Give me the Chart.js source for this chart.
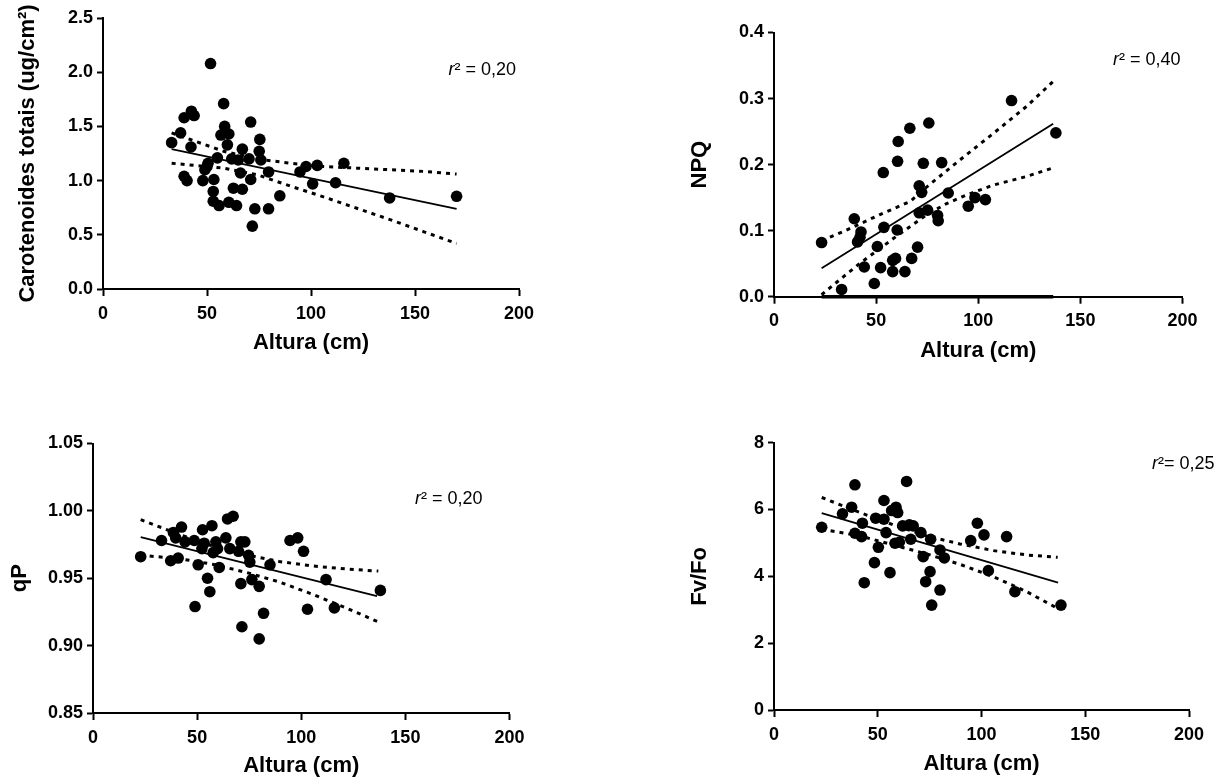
<!DOCTYPE html>
<html lang="pt">
<head>
<meta charset="utf-8">
<title>Altura (cm) – regressões</title>
<script src="https://cdn.jsdelivr.net/npm/chart.js@4.4.1/dist/chart.umd.min.js"></script>
<style>
html,body{margin:0;padding:0;background:#fff;}
body{position:relative;width:1228px;height:777px;overflow:hidden;font-family:"Liberation Sans",Arial,Helvetica,sans-serif;}
.box{position:absolute;}
.box canvas{display:block;}
.r2{position:absolute;font-size:18px;line-height:18px;color:#000;white-space:nowrap;}
</style>
</head>
<body>
<div class="box" style="left:17px;top:0;width:542px;height:354px"><canvas id="c1"></canvas></div>
<div class="box" style="left:689px;top:0;width:524px;height:362px"><canvas id="c2"></canvas></div>
<div class="box" style="left:9px;top:400px;width:541px;height:377px"><canvas id="c3"></canvas></div>
<div class="box" style="left:689px;top:400px;width:530px;height:375px"><canvas id="c4"></canvas></div>
<div class="r2" style="right:712px;top:60px"><i>r</i>² = 0,20</div>
<div class="r2" style="left:1113px;top:50px"><i>r</i>² = 0,40</div>
<div class="r2" style="left:415px;top:489px"><i>r</i>² = 0,20</div>
<div class="r2" style="left:1152px;top:454px"><i>r</i>²= 0,25</div>
<script>
// ---------- shared x axis ----------
const xTitle = 'Altura (cm)';
const heightTicks = [0, 50, 100, 150, 200];
const heightTickLabels = ['0', '50', '100', '150', '200'];

// ---------- Carotenoides totais ----------
const carTitle = 'Carotenoides totais (ug/cm²)';
const carTicks = [0, 0.5, 1.0, 1.5, 2.0, 2.5];
const carTickLabels = ['0.0', '0.5', '1.0', '1.5', '2.0', '2.5'];
const carX = [33, 37.3, 39, 42.5, 43.8, 42.3, 39, 40.4, 48, 49, 50.5, 50, 51.7, 53.3, 53, 53, 55.8, 55, 58, 58.5, 56.7, 60.5, 59.8, 60.5, 64.2, 61.9, 62.7, 67, 66.1, 67, 65, 70.2, 71, 71, 73, 71.8, 75.4, 75.1, 75.9, 79.6, 79.6, 85, 94.7, 97.6, 100.8, 103, 111.8, 115.8, 137.8, 170];
const carY = [1.35, 1.44, 1.58, 1.64, 1.60, 1.31, 1.04, 1.00, 1.00, 1.10, 1.16, 1.13, 2.08, 1.01, 0.90, 0.81, 0.77, 1.21, 1.71, 1.50, 1.42, 1.43, 1.33, 0.80, 0.77, 1.20, 0.93, 0.92, 1.07, 1.29, 1.19, 1.20, 1.54, 1.01, 0.74, 0.58, 1.38, 1.27, 1.19, 0.74, 1.08, 0.86, 1.08, 1.13, 0.97, 1.14, 0.98, 1.16, 0.84, 0.855];
const carFitX = [33, 170];
const carFitY = [1.29, 0.74];
const carBandX = [33, 58, 74, 90, 106, 122, 138, 154, 170];
const carUpperY = [1.44, 1.27, 1.20, 1.16, 1.13, 1.115, 1.10, 1.085, 1.06];
const carLowerY = [1.16, 1.115, 1.055, 0.95, 0.85, 0.745, 0.64, 0.53, 0.42];

// ---------- NPQ ----------
const npqTitle = 'NPQ';
const npqTicks = [0, 0.1, 0.2, 0.3, 0.4];
const npqTickLabels = ['0.0', '0.1', '0.2', '0.3', '0.4'];
const npqX = [23.3, 33.1, 39.3, 40.9, 42.6, 42.1, 44.2, 49.1, 50.6, 52.2, 53.5, 53.8, 58.1, 58.1, 59.5, 60.3, 60.5, 60.8, 64.1, 66.5, 67.4, 70.3, 71.1, 72.3, 71.1, 73.1, 75.2, 75.8, 80.1, 80.4, 82.1, 85.3, 95.1, 98.4, 103.5, 116.3, 138.0];
const npqY = [0.082, 0.011, 0.118, 0.083, 0.098, 0.090, 0.045, 0.020, 0.076, 0.044, 0.188, 0.105, 0.038, 0.055, 0.058, 0.101, 0.205, 0.235, 0.038, 0.255, 0.058, 0.075, 0.168, 0.158, 0.127, 0.202, 0.131, 0.263, 0.123, 0.115, 0.203, 0.157, 0.137, 0.150, 0.147, 0.297, 0.248];
const npqFitX = [23.3, 136.7];
const npqFitY = [0.043, 0.262];
const npqUpperX = [23.3, 33.9, 51.6, 66.6, 74.7, 91, 107.3, 123.6, 136.7];
const npqUpperY = [0.085, 0.0985, 0.124, 0.144, 0.166, 0.207, 0.247, 0.288, 0.326];
const npqLowerX = [23.3, 33.9, 42.1, 58.4, 74.7, 84.5, 94.3, 107.3, 123.6, 136.7];
const npqLowerY = [0.003, 0.030, 0.0506, 0.088, 0.124, 0.141, 0.154, 0.169, 0.182, 0.195];
const npqBaseX = [23.3, 136.7];
const npqBaseY = [0, 0];

// ---------- qP ----------
const qpTitle = 'qP';
const qpTicks = [0.85, 0.90, 0.95, 1.00, 1.05];
const qpTickLabels = ['0.85', '0.90', '0.95', '1.00', '1.05'];
const qpX = [22.9, 32.9, 37.3, 38.6, 39.7, 40.9, 42.5, 44.2, 48.6, 49.0, 50.5, 52.6, 52.3, 53.4, 55.0, 56.1, 57.1, 57.7, 59.0, 60.6, 59.8, 63.8, 64.6, 67.3, 65.7, 69.9, 71.0, 72.9, 71.0, 71.5, 74.7, 75.3, 76.3, 79.8, 79.8, 81.9, 85.0, 94.6, 98.3, 101.1, 103.0, 111.9, 115.9, 138.0];
const qpY = [0.966, 0.978, 0.963, 0.984, 0.980, 0.965, 0.988, 0.977, 0.978, 0.929, 0.960, 0.986, 0.972, 0.976, 0.950, 0.940, 0.989, 0.969, 0.977, 0.958, 0.972, 0.980, 0.994, 0.996, 0.972, 0.970, 0.977, 0.977, 0.946, 0.914, 0.967, 0.962, 0.949, 0.944, 0.905, 0.924, 0.960, 0.978, 0.980, 0.970, 0.927, 0.949, 0.928, 0.941];
const qpFitX = [22.9, 136.4];
const qpFitY = [0.9806, 0.9367];
const qpBandX = [22.9, 41.3, 57.4, 73.4, 89.4, 105.4, 121.5, 137];
const qpUpperY = [0.9935, 0.9826, 0.9739, 0.9675, 0.9624, 0.9591, 0.9569, 0.9553];
const qpLowerY = [0.967, 0.9646, 0.9604, 0.9544, 0.9473, 0.9381, 0.928, 0.9176];

// ---------- Fv/Fo ----------
const fvTitle = 'Fv/Fo';
const fvTicks = [0, 2, 4, 6, 8];
const fvTickLabels = ['0', '2', '4', '6', '8'];
const fvX = [23.0, 33.0, 37.4, 39.0, 39.0, 42.6, 42.2, 43.5, 48.4, 49.0, 50.3, 53.0, 53.0, 54.0, 55.9, 56.7, 58.3, 58.8, 59.6, 60.4, 62.0, 63.9, 65.2, 67.1, 65.9, 70.8, 71.9, 73.1, 75.2, 75.5, 76.0, 80.0, 80.0, 82.1, 94.8, 98.0, 101.2, 103.3, 112.1, 116.1, 138.3];
const fvY = [5.47, 5.87, 6.07, 6.74, 5.29, 5.59, 5.19, 3.81, 4.41, 5.74, 4.87, 6.27, 5.71, 5.31, 4.11, 5.97, 4.99, 6.07, 5.91, 5.02, 5.51, 6.84, 5.54, 5.51, 5.11, 5.31, 4.59, 3.84, 4.14, 5.11, 3.14, 4.79, 3.59, 4.55, 5.07, 5.59, 5.24, 4.17, 5.19, 3.54, 3.14];
const fvFitX = [23, 136.9];
const fvFitY = [5.89, 3.81];
const fvBandX = [23.0, 41.4, 57.5, 73.6, 89.6, 105.7, 121.8, 136.7];
const fvUpperY = [6.36, 5.91, 5.54, 5.21, 4.97, 4.77, 4.64, 4.57];
const fvLowerY = [5.41, 5.21, 4.94, 4.67, 4.36, 3.99, 3.54, 3.04];

// ---------- drawing ----------
const FONT = '"Liberation Sans", Arial, Helvetica, sans-serif';
const pairs = (xs, ys) => xs.map((x, i) => ({ x: x, y: ys[i] }));
function lineSet(xs, ys, dash, width) {
  return {
    data: pairs(xs, ys), showLine: true, borderColor: '#000', borderWidth: width,
    borderDash: dash, borderCapStyle: 'butt', pointRadius: 0, pointHoverRadius: 0,
    fill: false, tension: 0, clip: false
  };
}
function panel(id, o) {
  const datasets = [
    { data: pairs(o.x, o.y), showLine: false, pointRadius: 5.8, pointHoverRadius: 5.8,
      pointBackgroundColor: '#000', pointBorderColor: '#000', pointBorderWidth: 0, clip: false },
    lineSet(o.fitX, o.fitY, [], 1.8),
    lineSet(o.upX, o.upY, [4, 5], 3),
    lineSet(o.loX, o.loY, [4, 5], 3)
  ];
  (o.extra || []).forEach(e => datasets.push(e));
  new Chart(document.getElementById(id), {
    type: 'scatter',
    data: { datasets: datasets },
    options: {
      responsive: true, maintainAspectRatio: false, animation: false, events: [],
      layout: { padding: { left: 0, top: o.padTop, right: o.padRight, bottom: 0 } },
      plugins: { legend: { display: false }, tooltip: { enabled: false } },
      scales: {
        x: {
          type: 'linear', min: 0, max: 200,
          afterBuildTicks: s => { s.ticks = heightTicks.map(v => ({ value: v })); },
          afterFit: s => { s.height = o.xHeight; },
          ticks: { callback: (v, i) => heightTickLabels[i], color: '#000', padding: 7,
                   maxRotation: 0, autoSkip: false, font: { family: FONT, size: 18, weight: 'bold' } },
          grid: { display: true, drawOnChartArea: false, drawTicks: true, tickLength: 7,
                  tickWidth: 2, tickColor: '#000', color: '#000' },
          border: { display: true, color: '#000', width: 2 },
          title: { display: true, text: xTitle, color: '#000', padding: 0,
                   font: { family: FONT, size: 22, weight: 'bold', lineHeight: 1 } }
        },
        y: {
          type: 'linear', min: o.ticks[0], max: o.ticks[o.ticks.length - 1],
          afterBuildTicks: s => { s.ticks = o.ticks.map(v => ({ value: v })); },
          afterFit: s => { s.width = o.yWidth; },
          ticks: { callback: (v, i) => o.labels[i], color: '#000', padding: 4,
                   autoSkip: false, font: { family: FONT, size: 18, weight: 'bold' } },
          grid: { display: true, drawOnChartArea: false, drawTicks: true, tickLength: 6,
                  tickWidth: 2, tickColor: '#000', color: '#000' },
          border: { display: true, color: '#000', width: 2 },
          title: { display: true, text: o.title, color: '#000', padding: 0,
                   font: { family: FONT, size: 22, weight: 'bold', lineHeight: 1 } }
        }
      }
    }
  });
}

panel('c1', { x: carX, y: carY, fitX: carFitX, fitY: carFitY, upX: carBandX, upY: carUpperY,
  loX: carBandX, loY: carLowerY, ticks: carTicks, labels: carTickLabels, title: carTitle,
  padTop: 18, padRight: 40, yWidth: 86, xHeight: 65 });

panel('c2', { x: npqX, y: npqY, fitX: npqFitX, fitY: npqFitY, upX: npqUpperX, upY: npqUpperY,
  loX: npqLowerX, loY: npqLowerY, ticks: npqTicks, labels: npqTickLabels, title: npqTitle,
  padTop: 32.5, padRight: 30.5, yWidth: 85, xHeight: 65.3,
  extra: [lineSet(npqBaseX, npqBaseY, [], 3.5)] });

panel('c3', { x: qpX, y: qpY, fitX: qpFitX, fitY: qpFitY, upX: qpBandX, upY: qpUpperY,
  loX: qpBandX, loY: qpLowerY, ticks: qpTicks, labels: qpTickLabels, title: qpTitle,
  padTop: 43.5, padRight: 40.5, yWidth: 84, xHeight: 64 });

panel('c4', { x: fvX, y: fvY, fitX: fvFitX, fitY: fvFitY, upX: fvBandX, upY: fvUpperY,
  loX: fvBandX, loY: fvLowerY, ticks: fvTicks, labels: fvTickLabels, title: fvTitle,
  padTop: 42.7, padRight: 30, yWidth: 85, xHeight: 65 });
</script>
</body>
</html>
